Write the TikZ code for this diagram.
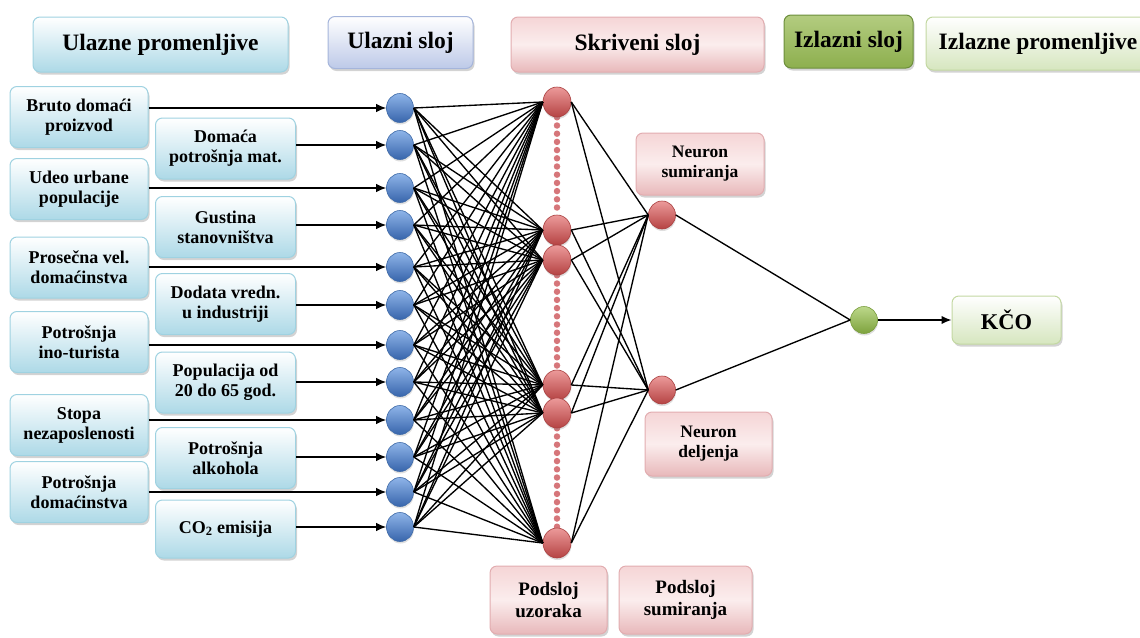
\documentclass[tikz,border=0pt]{standalone}
\usepackage{fontspec}
\setmainfont{Liberation Serif}
\usetikzlibrary{arrows.meta,shadows,shapes.geometric}
\definecolor{cyanB}{HTML}{ADD9E7}
\definecolor{cyanD}{HTML}{9FD2E1}
\definecolor{lavB}{HTML}{BDC9E8}
\definecolor{lavD}{HTML}{A5B5DB}
\definecolor{pinkT}{HTML}{F5D5D6}
\definecolor{pinkM}{HTML}{FBEDED}
\definecolor{pinkB}{HTML}{E8B8BA}
\definecolor{pinkD}{HTML}{E2ADB0}
\definecolor{grT}{HTML}{B3CC80}
\definecolor{grB}{HTML}{8DAF4E}
\definecolor{grD}{HTML}{6C8E3C}
\definecolor{lgB}{HTML}{D6E6BF}
\definecolor{lgD}{HTML}{C3D8A2}
\definecolor{blueT}{HTML}{8EB4E8}
\definecolor{blueB}{HTML}{3765AC}
\definecolor{blueD}{HTML}{3E6AA8}
\definecolor{redT}{HTML}{EC9A9A}
\definecolor{redB}{HTML}{B54343}
\definecolor{redD}{HTML}{A94040}
\definecolor{dotred}{HTML}{D6767A}
\definecolor{gnT}{HTML}{BCD88A}
\definecolor{gnB}{HTML}{7DA23D}
\definecolor{gnD}{HTML}{7A9E3E}
\pgfdeclarelayer{bg}
\pgfsetlayers{bg,main}
\begin{document}
\begin{tikzpicture}[x=1pt,y=-1pt,
  box/.style={rounded corners=7pt, line width=1pt, align=center, inner sep=0pt,
    font=\fontsize{18}{20}\selectfont\bfseries,
    drop shadow={opacity=0.35, shadow xshift=1.5pt, shadow yshift=-2.5pt}},
  hfont/.style={font=\fontsize{23.5}{26}\selectfont\bfseries},
  cbox/.style={box, draw=cyanD, top color=white, bottom color=cyanB},
  lbox/.style={box, draw=lavD, top color=white, bottom color=lavB},
  pbox/.style={box, draw=pinkD, top color=pinkT, bottom color=pinkB, middle color=pinkM},
  gbox/.style={box, draw=grD, top color=grT, bottom color=grB},
  lgbox/.style={box, draw=lgD, top color=white, bottom color=lgB},
  inbox/.style={cbox, minimum height=61pt},
  neu/.style={ellipse, inner sep=0pt, line width=0.6pt,
    drop shadow={opacity=0.25, shadow xshift=0.5pt, shadow yshift=-2pt}},
  bneu/.style={neu, minimum width=27pt, minimum height=29pt, draw=blueD, top color=blueT, bottom color=blueB},
  rneu/.style={neu, minimum width=28pt, minimum height=30pt, draw=redD, top color=redT, bottom color=redB},
  gneu/.style={neu, minimum width=27pt, minimum height=27pt, draw=gnD, top color=gnT, bottom color=gnB},
  conn/.style={line width=1.35pt, black},
  arr/.style={line width=1.4pt, black, -{Latex[length=10pt,width=8.5pt]}},
  dotline/.style={draw=dotred, line width=6.5pt, line cap=round, dash pattern=on 0pt off 8.2pt}
]
\useasboundingbox (0,0) rectangle (1140,637);
% header boxes
\node[cbox, hfont, minimum width=255pt, minimum height=55pt] (h1) at (160.5,44.5) {Ulazne promenljive};
\node[lbox, hfont, minimum width=145pt, minimum height=52pt] (h2) at (400.5,42.5) {Ulazni sloj};
\node[pbox, hfont, minimum width=253pt, minimum height=55pt] (h3) at (637.5,44.5) {Skriveni sloj};
\node[gbox, hfont, minimum width=129pt, minimum height=53pt] (h4) at (848.5,41.5) {Izlazni sloj};
\node[lgbox, hfont, minimum width=224pt, minimum height=53pt] (h5) at (1038,43.5) {Izlazne promenljive};
% input variable boxes
\node[inbox, minimum width=138pt] (b1) at (79,117) {Bruto domaći\\proizvod};
\node[inbox, minimum width=138pt] (b3) at (79,189) {Udeo urbane\\populacije};
\node[inbox, minimum width=138pt] (b5) at (79,267.5) {Prosečna vel.\\domaćinstva};
\node[inbox, minimum width=138pt] (b7) at (79,342) {Potrošnja\\ino-turista};
\node[inbox, minimum width=138pt] (b9) at (79,425) {Stopa\\nezaposlenosti};
\node[inbox, minimum width=138pt] (b11) at (79,492) {Potrošnja\\domaćinstva};
\node[inbox, minimum width=140pt] (b2) at (225.5,148.5) {Domaća\\potrošnja mat.};
\node[inbox, minimum width=140pt] (b4) at (225.5,227) {Gustina\\stanovništva};
\node[inbox, minimum width=140pt] (b6) at (225.5,304) {Dodata vredn.\\u industriji};
\node[inbox, minimum width=140pt] (b8) at (225.5,382.5) {Populacija od\\20 do 65 god.};
\node[inbox, minimum width=140pt] (b10) at (225.5,458) {Potrošnja\\alkohola};
\node[inbox, minimum width=140pt, minimum height=58pt] (b12) at (225.5,529) {CO\textsubscript{2} emisija};
% input neurons
\foreach \k/\yy in {1/108,2/145,3/188,4/225,5/267,6/305,7/345,8/382,9/420,10/457,11/492,12/527}
  \node[bneu] (i\k) at (400,\yy) {};
% pattern neurons
\foreach \k/\yy in {1/102,2/230,3/260,4/385,5/413,6/543}
  \node[rneu] (p\k) at (557,\yy) {};
% summation neurons
\node[rneu, minimum width=27pt, minimum height=28pt] (s1) at (662,215) {};
\node[rneu, minimum width=27pt, minimum height=28pt] (s2) at (662,390) {};
% output neuron
\node[gneu] (o) at (864,320) {};
% dotted columns
\begin{pgfonlayer}{bg}
\draw[dotline] (p1) -- (p2);
\draw[dotline] (p3) -- (p4);
\draw[dotline] (p5) -- (p6);
\end{pgfonlayer}
% other boxes
\node[pbox, font=\fontsize{17.5}{20}\selectfont\bfseries, minimum width=128pt, minimum height=62pt] (ns) at (700,164) {Neuron\\sumiranja};
\node[pbox, font=\fontsize{17.5}{20}\selectfont\bfseries, minimum width=127pt, minimum height=64pt] (nd) at (708.5,444) {Neuron\\deljenja};
\node[pbox, font=\fontsize{19}{22}\selectfont\bfseries, minimum width=117pt, minimum height=68pt] (pu) at (548.5,600) {Podsloj\\uzoraka};
\node[pbox, font=\fontsize{19}{22}\selectfont\bfseries, minimum width=133pt, minimum height=68pt] (ps) at (685.5,600) {Podsloj\\sumiranja};
\node[lgbox, font=\fontsize{22.5}{24}\selectfont\bfseries, minimum width=109pt, minimum height=48pt] (kco) at (1006.5,320) {KČO};
% input arrows
\foreach \k in {1,...,12}
  \draw[arr] (b\k.east |- i\k) -- (i\k.west);
% full connections
\foreach \k in {1,...,12}
  \foreach \h in {1,...,6}
    \draw[conn] (i\k.east) -- (p\h.west);
\foreach \h in {1,...,6}
  \foreach \s in {1,2}
    \draw[conn] (p\h.east) -- (s\s.west);
\draw[conn] (s1.east) -- (o.west);
\draw[conn] (s2.east) -- (o.west);
\draw[arr] (o.east) -- (kco.west);
\end{tikzpicture}
\end{document}
